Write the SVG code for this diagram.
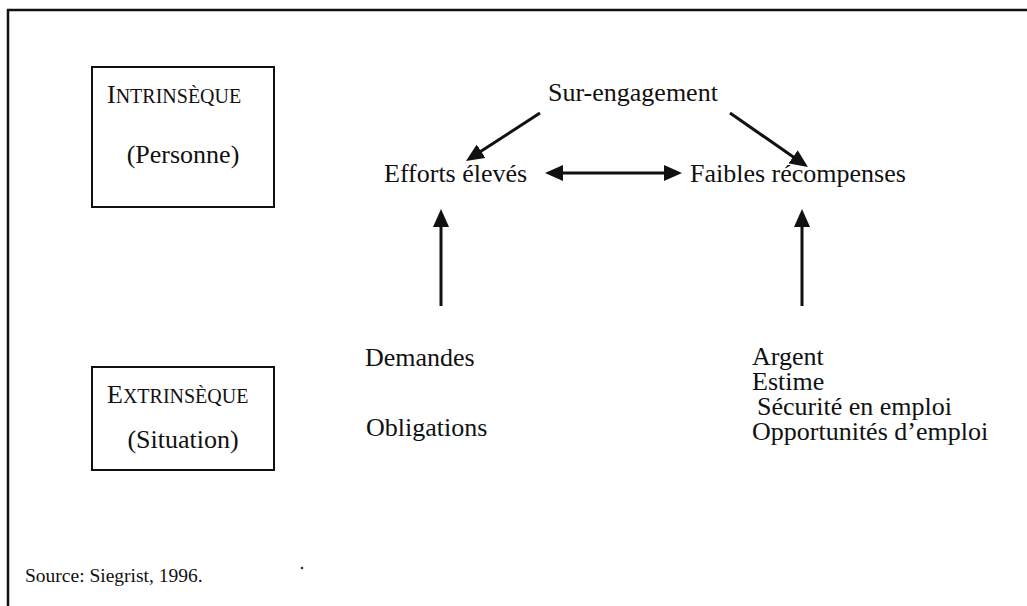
<svg xmlns="http://www.w3.org/2000/svg" width="1027" height="606" viewBox="0 0 1027 606">
  <style>
    text { font-family: "Liberation Serif", "Times New Roman", serif; fill: #111; }
    .lbl { font-size: 26px; }
    .sc { font-size: 20px; }
    .src { font-size: 19.5px; }
    .box { fill: #fff; stroke: #111; stroke-width: 2; }
    .frame { fill: none; stroke: #111; stroke-width: 2.5; }
    .conn { stroke: #111; stroke-width: 3; fill: none; marker-end: url(#head); }
    .both { marker-start: url(#head); }
  </style>
  <defs>
    <marker id="head" markerUnits="userSpaceOnUse" viewBox="0 0 18 16" refX="2" refY="8" markerWidth="18" markerHeight="16" orient="auto-start-reverse">
      <path d="M0,0 L18,8 L0,16 z" fill="#111"/>
    </marker>
  </defs>
  <rect width="1027" height="606" fill="#fff"/>

  <!-- outer frame: left and top rules only -->
  <path class="frame" d="M8,606 V10 H1027"/>

  <g id="intrinseque">
    <rect class="box" x="92" y="67" width="182" height="140"/>
    <text class="lbl" x="107" y="103">I<tspan class="sc">NTRINSÈQUE</tspan></text>
    <text class="lbl" x="183" y="163" text-anchor="middle">(Personne)</text>
  </g>

  <g id="extrinseque">
    <rect class="box" x="92" y="367" width="182" height="103"/>
    <text class="lbl" x="107" y="403">E<tspan class="sc">XTRINSÈQUE</tspan></text>
    <text class="lbl" x="183" y="448" text-anchor="middle">(Situation)</text>
  </g>

  <g id="sur-engagement">
    <text class="lbl" x="548" y="101">Sur-engagement</text>
  </g>
  <g id="efforts">
    <text class="lbl" x="384" y="182">Efforts élevés</text>
  </g>
  <g id="recompenses">
    <text class="lbl" x="690" y="182">Faibles récompenses</text>
  </g>
  <g id="demandes">
    <text class="lbl" x="365" y="366">Demandes</text>
    <text class="lbl" x="366" y="436">Obligations</text>
  </g>
  <g id="ressources">
    <text class="lbl" x="752" y="365">Argent</text>
    <text class="lbl" x="752" y="390">Estime</text>
    <text class="lbl" x="757" y="415">Sécurité en emploi</text>
    <text class="lbl" x="752" y="440">Opportunités d’emploi</text>
  </g>

  <g id="connectors">
    <line class="conn" x1="540" y1="113" x2="479.4" y2="152.3"/>
    <line class="conn" x1="730" y1="113" x2="794.8" y2="157.9"/>
    <line class="conn both" x1="561" y1="173" x2="666" y2="173"/>
    <line class="conn" x1="441" y1="306" x2="441" y2="225"/>
    <line class="conn" x1="802" y1="306" x2="802" y2="225"/>
  </g>

  <g id="source">
    <text class="src" x="25" y="582">Source: Siegrist, 1996.</text>
    <circle cx="302" cy="568" r="1.3" fill="#333"/>
  </g>
</svg>
